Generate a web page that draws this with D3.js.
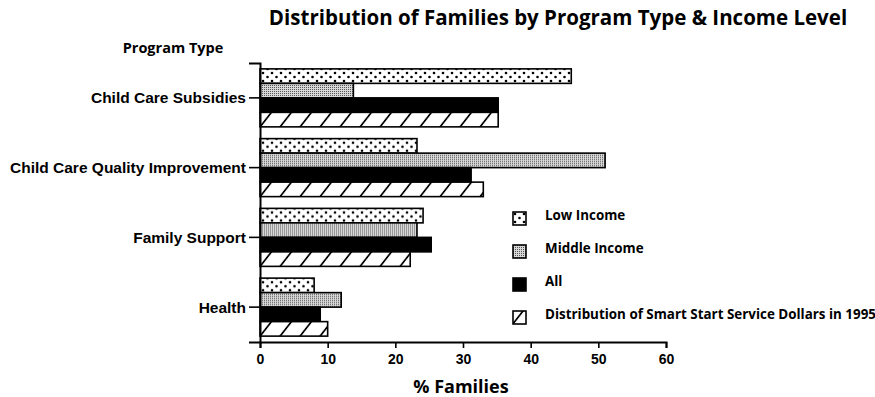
<!DOCTYPE html>
<html>
<head>
<meta charset="utf-8">
<script src="https://cdn.jsdelivr.net/npm/d3@7"></script>
<style>
  body { margin: 0; background: #fff; }
  svg { display: block; font-family: "Open Sans", "DejaVu Sans", sans-serif; }
  text { font-weight: 700; fill: #000; }
</style>
</head>
<body>
<svg id="chart" width="875" height="397"></svg>
<script>
// Program categories, top to bottom
const programs = ["Child Care Subsidies", "Child Care Quality Improvement", "Family Support", "Health"];
// Series names as listed in the legend
const seriesNames = ["Low Income", "Middle Income", "All", "Distribution of Smart Start Service Dollars in 1995"];
// Percent of families, one array per series (same order as programs)
const lowIncome = [46, 23.2, 24.1, 8];
const middleIncome = [13.8, 51, 23.2, 12];
const allFamilies = [35.2, 31.2, 25.3, 8.9];
const serviceDollars = [35.2, 33, 22.2, 10];
const xTicks = [0, 10, 20, 30, 40, 50, 60];

const seriesValues = [lowIncome, middleIncome, allFamilies, serviceDollars];
const fills = ["url(#dots)", "url(#stipple)", "#000", "url(#hatch)"];

const svg = d3.select("#chart");
const defs = svg.append("defs");

// Dotted fill: staggered black dots on white
const dots = defs.append("pattern").attr("id", "dots")
  .attr("patternUnits", "userSpaceOnUse").attr("width", 9).attr("height", 8);
dots.append("rect").attr("width", 9).attr("height", 8).attr("fill", "#fff");
dots.append("circle").attr("cx", 2).attr("cy", 2).attr("r", 1.3).attr("fill", "#000");
dots.append("circle").attr("cx", 6.5).attr("cy", 6).attr("r", 1.3).attr("fill", "#000");

// Fine grey stipple
const stipple = defs.append("pattern").attr("id", "stipple")
  .attr("patternUnits", "userSpaceOnUse").attr("width", 2).attr("height", 2);
stipple.append("rect").attr("width", 2).attr("height", 2).attr("fill", "#d8d8d8");
stipple.append("rect").attr("width", 1).attr("height", 1).attr("fill", "#555");

// Forward-slash hatch
const hatch = defs.append("pattern").attr("id", "hatch")
  .attr("patternUnits", "userSpaceOnUse").attr("width", 20).attr("height", 20)
  .attr("patternTransform", "skewX(-38)");
hatch.append("rect").attr("width", 20).attr("height", 20).attr("fill", "#fff");
hatch.append("line").attr("x1", 10).attr("y1", 0).attr("x2", 10).attr("y2", 20)
  .attr("stroke", "#000").attr("stroke-width", 2.2);

// Scales
const x = d3.scaleLinear().domain([0, 60]).range([260, 666]);
const y = d3.scaleBand().domain(programs).range([63, 342]);
const groupH = 58;
const yInner = d3.scaleBand().domain(d3.range(seriesNames.length))
  .range([(y.bandwidth() - groupH) / 2, (y.bandwidth() + groupH) / 2]);

// Title and axis caption
svg.append("text").attr("x", 558).attr("y", 25).attr("text-anchor", "middle")
  .style("font-size", "20.5px").text("Distribution of Families by Program Type & Income Level");
svg.append("text").attr("x", 173).attr("y", 53).attr("text-anchor", "middle")
  .style("font-size", "14.5px").text("Program Type");

// Bars
const groups = svg.append("g").selectAll("g").data(programs).join("g")
  .attr("transform", d => `translate(0,${y(d)})`);
groups.selectAll("rect")
  .data((p, i) => seriesValues.map((vals, s) => ({ s, v: vals[i] })))
  .join("rect")
  .attr("x", x(0))
  .attr("y", d => yInner(d.s))
  .attr("width", d => x(d.v) - x(0))
  .attr("height", yInner.bandwidth())
  .attr("fill", d => fills[d.s])
  .attr("stroke", "#000").attr("stroke-width", 1.6);

// Axes
const yAxis = svg.append("g").attr("transform", `translate(${x(0)},0)`)
  .call(d3.axisLeft(y).tickSize(11).tickPadding(3));
yAxis.select(".domain").attr("stroke-width", 2);
yAxis.selectAll(".tick line").attr("stroke-width", 1.6);
yAxis.selectAll(".tick text").style("font-size", "15.5px").attr("font-family", null)
  .attr("dy", "0.36em");

const xAxis = svg.append("g").attr("transform", `translate(0,342)`)
  .call(d3.axisBottom(x).tickValues(xTicks).tickSize(6).tickSizeOuter(6).tickPadding(6));
xAxis.select(".domain").attr("stroke-width", 2);
xAxis.selectAll(".tick line").attr("stroke-width", 1.6);
xAxis.selectAll(".tick text").style("font-size", "14px").attr("font-family", null);

svg.append("text").attr("x", 461).attr("y", 393).attr("text-anchor", "middle")
  .style("font-size", "18px").text("% Families");

// Legend
const legend = svg.append("g").selectAll("g").data(seriesNames).join("g")
  .attr("transform", (d, i) => `translate(513,${212 + i * 33})`);
legend.append("rect").attr("width", 13).attr("height", 13)
  .attr("fill", (d, i) => fills[i]).attr("stroke", "#000").attr("stroke-width", 1.6);
legend.append("text").attr("x", 32).attr("y", 7.5)
  .style("font-size", "13.4px").text(d => d);
</script>
</body>
</html>
